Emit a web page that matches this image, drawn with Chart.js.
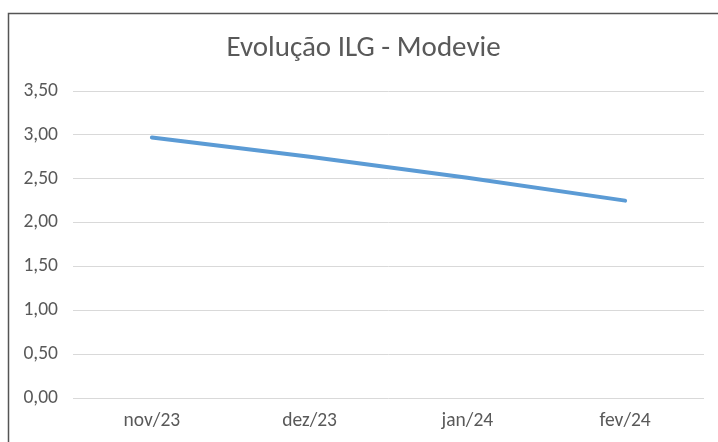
<!DOCTYPE html>
<html>
<head>
<meta charset="utf-8">
<script src="https://cdn.jsdelivr.net/npm/chart.js@4.4.1/dist/chart.umd.min.js"></script>
<style>
  html, body { margin: 0; padding: 0; background: #ffffff; }
  #wrap { position: relative; width: 718px; height: 442px; }
</style>
</head>
<body>
<div id="wrap"><canvas id="c" width="718" height="442"></canvas></div>
<script>
const categories = ["nov/23", "dez/23", "jan/24", "fev/24"];
const ilgValues = [2.97, 2.75, 2.51, 2.25];
const yTicks = [0, 0.5, 1, 1.5, 2, 2.5, 3, 3.5];
const chartTitle = "Evolução ILG - Modevie";

const FONT = "Carlito, Calibri, Lato, sans-serif";
const TEXT = "#595959";

const framePlugin = {
  id: "frame",
  beforeDraw(chart) {
    const ctx = chart.ctx;
    ctx.save();
    ctx.fillStyle = "#ffffff";
    ctx.fillRect(0, 0, chart.width, chart.height);
    ctx.strokeStyle = "#555555";
    ctx.lineWidth = 1.5;
    ctx.beginPath();
    ctx.moveTo(8.5, chart.height + 5);
    ctx.lineTo(8.5, 13.5);
    ctx.lineTo(chart.width + 5, 13.5);
    ctx.stroke();
    ctx.restore();
  },
  afterDraw(chart) {
    const ctx = chart.ctx;
    ctx.save();
    ctx.fillStyle = TEXT;
    ctx.font = "29px " + FONT;
    ctx.textAlign = "center";
    ctx.textBaseline = "alphabetic";
    ctx.fillText(chartTitle, 363.5, 56);
    ctx.restore();
  }
};

new Chart(document.getElementById("c"), {
  type: "line",
  data: {
    labels: categories,
    datasets: [{
      label: "ILG",
      data: ilgValues,
      borderColor: "#5b9bd5",
      backgroundColor: "#5b9bd5",
      borderWidth: 4,
      borderCapStyle: "round",
      pointRadius: 0,
      pointHoverRadius: 0,
      tension: 0,
      fill: false
    }]
  },
  options: {
    responsive: false,
    animation: false,
    devicePixelRatio: 1,
    layout: { padding: { left: 0, right: 14, top: 91, bottom: 0 } },
    plugins: {
      legend: { display: false },
      tooltip: { enabled: false },
      title: { display: false }
    },
    scales: {
      x: {
        offset: true,
        grid: { display: false, drawTicks: false, offset: true },
        border: { display: false },
        ticks: {
          color: TEXT,
          font: { family: FONT, size: 19.5 },
          padding: 11,
          maxRotation: 0
        },
        afterFit(scale) { scale.height = 44; }
      },
      y: {
        min: 0,
        max: 3.5,
        afterBuildTicks(scale) { scale.ticks = yTicks.map(v => ({ value: v })); },
        grid: { color: "#d9d9d9", lineWidth: 1, drawTicks: false },
        border: { display: false },
        ticks: {
          color: TEXT,
          font: { family: FONT, size: 19.5 },
          padding: 15,
          callback: (v) => Number(v).toFixed(2).replace(".", ",")
        },
        afterFit(scale) { scale.width = 73; }
      }
    }
  },
  plugins: [framePlugin]
});
</script>
</body>
</html>
